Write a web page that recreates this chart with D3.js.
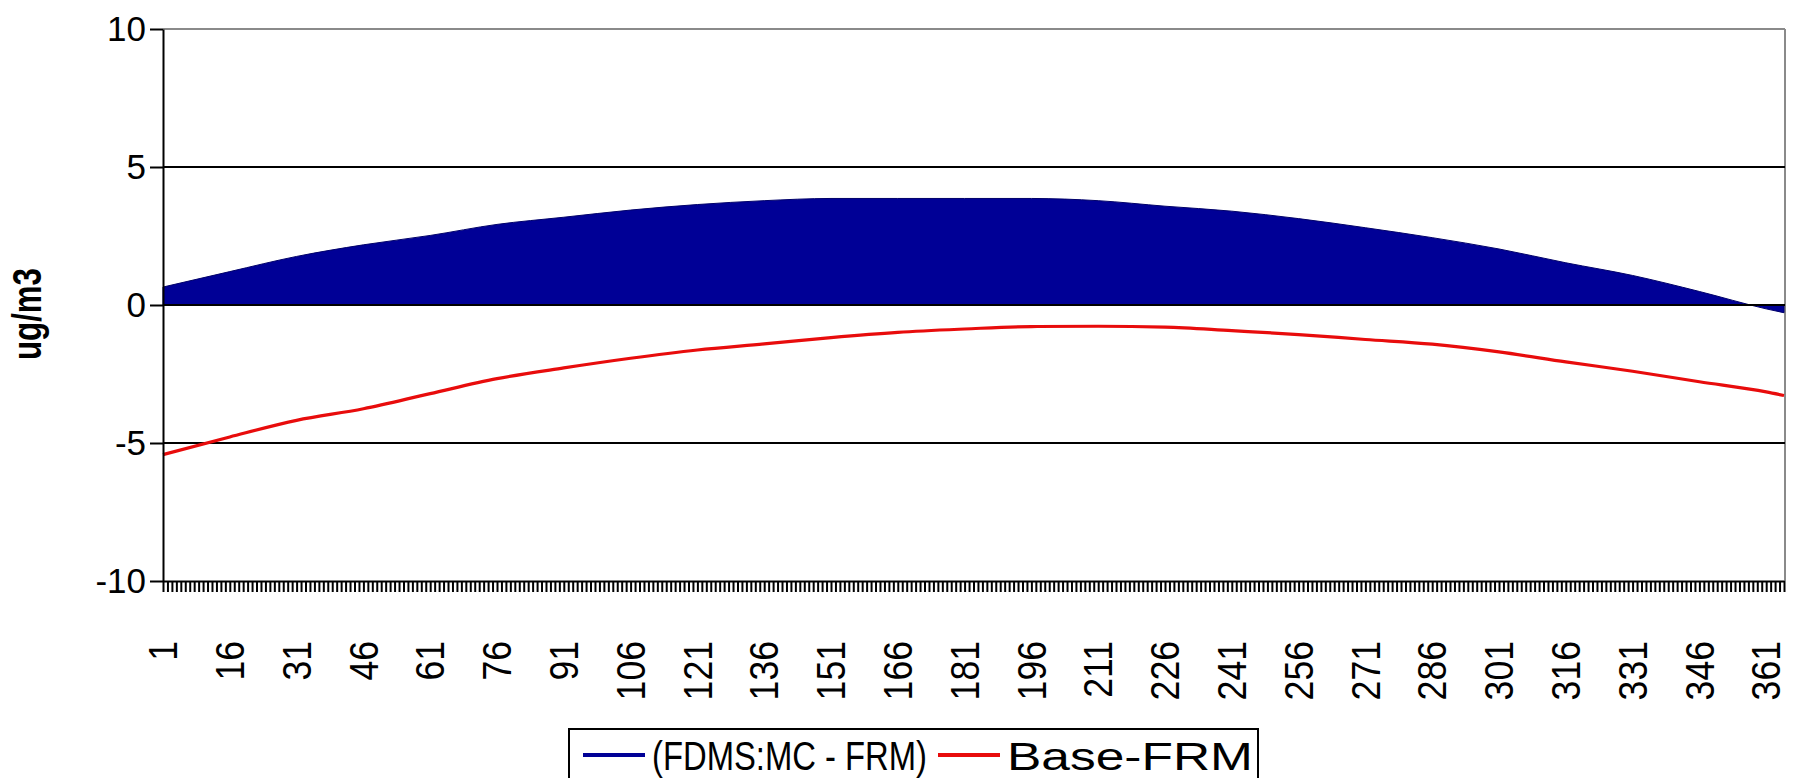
<!DOCTYPE html>
<html>
<head>
<meta charset="utf-8">
<script src="https://d3js.org/d3.v7.min.js"></script>
<style>
  body { margin: 0; background: #fff; }
  text { font-family: "Liberation Sans", Arial, sans-serif; fill: #000; }
</style>
</head>
<body>
<div id="chart"></div>
<script>
  // sampled days (x categories 1..365)
  var days = [1, 16, 31, 46, 61, 76, 91, 106, 121, 136, 151, 166, 181, 196, 211, 226, 241, 256, 271, 286, 301, 316, 331, 346, 361, 365];
  var fdmsMinusFrm = [0.65, 1.21, 1.76, 2.18, 2.52, 2.92, 3.18, 3.44, 3.64, 3.78, 3.86, 3.86, 3.86, 3.86, 3.78, 3.58, 3.40, 3.13, 2.80, 2.44, 2.03, 1.53, 1.07, 0.49, -0.14, -0.28];
  var baseMinusFrm = [-5.42, -4.78, -4.18, -3.76, -3.21, -2.67, -2.28, -1.93, -1.63, -1.41, -1.18, -0.99, -0.87, -0.78, -0.77, -0.80, -0.93, -1.07, -1.25, -1.42, -1.70, -2.06, -2.40, -2.78, -3.15, -3.28];
  var xLabels = [1, 16, 31, 46, 61, 76, 91, 106, 121, 136, 151, 166, 181, 196, 211, 226, 241, 256, 271, 286, 301, 316, 331, 346, 361];
  var yTicks = [10, 5, 0, -5, -10];
  var gridValues = [5, 0, -5];
  var seriesNames = ["(FDMS:MC - FRM)", "Base-FRM"];
  var seriesColors = ["#000096", "#e80c0c"];

  var W = 1794, H = 778;
  var plotLeft = 163, plotRight = 1785, plotTop = 29, plotBottom = 581;

  var svg = d3.select("#chart").append("svg")
    .attr("width", W)
    .attr("height", H);

  var x = d3.scaleLinear().domain([1, 365]).range([plotLeft, plotRight - 1]);
  var y = d3.scaleLinear().domain([-10, 10]).range([plotBottom, plotTop]);

  var blueData = days.map(function (d, i) { return { day: d, v: fdmsMinusFrm[i] }; });
  var redData = days.map(function (d, i) { return { day: d, v: baseMinusFrm[i] }; });

  // plot frame (top and right in grey like the original)
  svg.append("line")
    .attr("x1", plotLeft).attr("x2", plotRight).attr("y1", y(10)).attr("y2", y(10))
    .attr("stroke", "#8a8a8a").attr("stroke-width", 2);
  svg.append("line")
    .attr("x1", plotRight).attr("x2", plotRight).attr("y1", y(10)).attr("y2", y(-10))
    .attr("stroke", "#8a8a8a").attr("stroke-width", 2);

  svg.selectAll(".grid").data(gridValues.filter(function (g) { return g != 0; }))
    .enter().append("line")
    .attr("class", "grid")
    .attr("x1", plotLeft).attr("x2", plotRight)
    .attr("y1", function (d) { return y(d); })
    .attr("y2", function (d) { return y(d); })
    .attr("stroke", "#000").attr("stroke-width", 2);

  var area = d3.area()
    .x(function (d) { return x(d.day); })
    .y0(y(0))
    .y1(function (d) { return y(d.v); })
    .curve(d3.curveMonotoneX);

  svg.append("path")
    .datum(blueData)
    .attr("d", area)
    .attr("fill", seriesColors[0])
    .attr("stroke", "#00006a")
    .attr("stroke-width", 1);

  // zero gridline over the area
  svg.append("line")
    .attr("x1", plotLeft).attr("x2", plotRight).attr("y1", y(0)).attr("y2", y(0))
    .attr("stroke", "#000").attr("stroke-width", 2);

  var line = d3.line()
    .x(function (d) { return x(d.day); })
    .y(function (d) { return y(d.v); })
    .curve(d3.curveMonotoneX);

  svg.append("path")
    .datum(redData)
    .attr("d", line)
    .attr("fill", "none")
    .attr("stroke", seriesColors[1])
    .attr("stroke-width", 3.2);

  // y axis
  var yAxis = svg.append("g")
    .attr("transform", "translate(" + plotLeft + ",0)")
    .call(d3.axisLeft(y).tickValues(yTicks).tickSize(13).tickPadding(4).tickSizeOuter(0)
      .tickFormat(function (d) { return String(d); }));
  yAxis.select(".domain").attr("stroke", "#000").attr("stroke-width", 2);
  yAxis.selectAll(".tick line").attr("stroke", "#000").attr("stroke-width", 2);
  yAxis.selectAll("text")
    .style("font-size", "35px")
    .style("font-family", "'Liberation Sans', Arial, sans-serif")
    .attr("fill", "#000");

  // x axis: a tick for every day
  var xAxis = svg.append("g")
    .attr("transform", "translate(0," + plotBottom + ")")
    .call(d3.axisBottom(x).tickValues(d3.range(1, 366)).tickSize(11).tickSizeOuter(0).tickFormat(""));
  xAxis.select(".domain").attr("stroke", "#000").attr("stroke-width", 2);
  xAxis.selectAll(".tick line").attr("stroke", "#000").attr("stroke-width", 2);

  var xLab = svg.append("g")
    .attr("transform", "translate(0," + plotBottom + ")")
    .call(d3.axisBottom(x).tickValues(xLabels).tickSize(0).tickFormat(function (d) { return String(d); }));
  xLab.select(".domain").remove();
  xLab.selectAll("text")
    .attr("y", 0)
    .attr("dy", null)
    .attr("dominant-baseline", "central")
    .attr("transform", "translate(0,60) rotate(-90) scale(0.89,1)")
    .style("text-anchor", "end")
    .style("font-size", "40px")
    .style("font-family", "'Liberation Sans', Arial, sans-serif")
    .attr("fill", "#000");

  // y title
  svg.append("text")
    .attr("transform", "translate(27,314) rotate(-90)")
    .attr("text-anchor", "middle")
    .attr("dominant-baseline", "central")
    .attr("textLength", 92)
    .attr("lengthAdjust", "spacingAndGlyphs")
    .style("font-size", "41px")
    .style("font-weight", "bold")
    .text("ug/m3");

  // legend
  var lg = svg.append("g");
  lg.append("rect")
    .attr("x", 569).attr("y", 729).attr("width", 689).attr("height", 90)
    .attr("fill", "#fff").attr("stroke", "#000").attr("stroke-width", 2);
  var legendItems = [
    { lx: 583, tx: 652, tw: 275, fs: 40 },
    { lx: 938, tx: 1007, tw: 246, fs: 38 }
  ];
  legendItems.forEach(function (it, i) {
    lg.append("line")
      .attr("x1", it.lx).attr("x2", it.lx + 62)
      .attr("y1", 755).attr("y2", 755)
      .attr("stroke", seriesColors[i]).attr("stroke-width", 4);
    lg.append("text")
      .attr("x", it.tx).attr("y", 770)
      .attr("textLength", it.tw)
      .attr("lengthAdjust", "spacingAndGlyphs")
      .style("font-size", it.fs + "px")
      .text(seriesNames[i]);
  });
</script>
</body>
</html>
